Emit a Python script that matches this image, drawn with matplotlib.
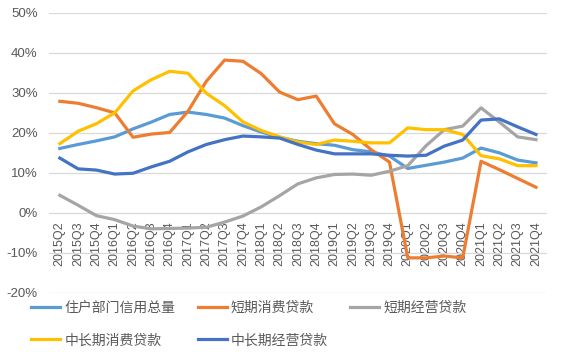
import matplotlib.pyplot as plt
import numpy as np

plt.rcParams['font.family'] = ['Liberation Sans', 'Noto Sans CJK SC', 'DejaVu Sans']

quarters = ['2015Q2', '2015Q3', '2015Q4',
            '2016Q1', '2016Q2', '2016Q3', '2016Q4',
            '2017Q1', '2017Q2', '2017Q3', '2017Q4',
            '2018Q1', '2018Q2', '2018Q3', '2018Q4',
            '2019Q1', '2019Q2', '2019Q3', '2019Q4',
            '2020Q1', '2020Q2', '2020Q3', '2020Q4',
            '2021Q1', '2021Q2', '2021Q3', '2021Q4']

household_total = [16.1, 17.1, 18.0, 19.0, 21.0, 22.7, 24.6, 25.2, 24.6, 23.7, 21.8,
                   20.2, 18.9, 17.9, 17.3, 16.9, 15.8, 15.25, 14.2, 11.1, 11.9, 12.7,
                   13.7, 16.2, 15.0, 13.2, 12.5]
short_consumer = [27.9, 27.4, 26.3, 25.0, 18.9, 19.7, 20.1, 25.4, 32.9, 38.2, 37.9,
                  34.8, 30.2, 28.3, 29.2, 22.25, 19.6, 15.8, 12.7, -11.25, -11.25, -10.8,
                  -11.25, 12.9, 10.8, 8.6, 6.4]
short_business = [4.4, 1.9, -0.7, -1.7, -3.3, -4.0, -3.9, -3.8, -3.6, -2.3, -0.8,
                  1.5, 4.3, 7.25, 8.75, 9.6, 9.7, 9.4, 10.4, 11.8, 16.8, 20.8,
                  21.7, 26.25, 22.7, 19.0, 18.3]
long_consumer = [17.3, 20.4, 22.3, 25.0, 30.5, 33.3, 35.4, 34.9, 29.9, 26.8, 22.75,
                 20.6, 19.0, 17.7, 17.1, 18.2, 17.9, 17.5, 17.5, 21.25, 20.8, 20.8,
                 19.6, 14.3, 13.5, 11.8, 11.8]
long_business = [13.7, 11.0, 10.7, 9.7, 9.9, 11.5, 12.9, 15.25, 17.1, 18.3, 19.2,
                 19.0, 18.7, 17.1, 15.7, 14.75, 14.75, 14.75, 14.4, 14.2, 14.4, 16.7,
                 18.2, 23.2, 23.5, 21.5, 19.6]

series = [
    ('住户部门信用总量', household_total, '#5B9BD5'),
    ('短期消费贷款', short_consumer, '#ED7D31'),
    ('短期经营贷款', short_business, '#A5A5A5'),
    ('中长期消费贷款', long_consumer, '#FFC000'),
    ('中长期经营贷款', long_business, '#4472C4'),
]

fig = plt.figure(figsize=(5.61, 3.58), dpi=100)
ax = fig.add_axes([0.087, 0.182, 0.888, 0.782])

x = np.arange(len(quarters))
lines = []
for name, vals, color in series:
    ln, = ax.plot(x, vals, color=color, lw=2.3, label=name, solid_joinstyle='round')
    lines.append(ln)

ax.set_ylim(-20, 50)
ax.set_xlim(-0.6, len(quarters) - 0.4)
ax.set_yticks(np.arange(-20, 51, 10))
ax.set_yticklabels([f'{v}%' for v in range(-20, 51, 10)])
ax.grid(axis='y', color='#D9D9D9', lw=0.9)
ax.set_axisbelow(True)
for s in ['top', 'right', 'left']:
    ax.spines[s].set_visible(False)
ax.spines['bottom'].set_position(('data', 0))
ax.spines['bottom'].set_visible(False)

ax.set_xticks(x)
ax.set_xticklabels(quarters, rotation=90, fontsize=9)
ax.tick_params(axis='x', length=0, pad=6, colors='#595959')
ax.tick_params(axis='y', length=0, pad=8, colors='#595959', labelsize=9.5)

# legend fills column-wise, so reorder to get row-wise layout
order = [0, 3, 1, 4, 2]
fig.legend([lines[i] for i in order], [series[i][0] for i in order],
           loc='lower left', bbox_to_anchor=(0.033, -0.005), ncol=3, frameon=False,
           fontsize=10, handlelength=2.1, columnspacing=1.6, labelspacing=1.35,
           handletextpad=0.3, labelcolor='#595959')

fig.savefig('out.png', dpi=100)
